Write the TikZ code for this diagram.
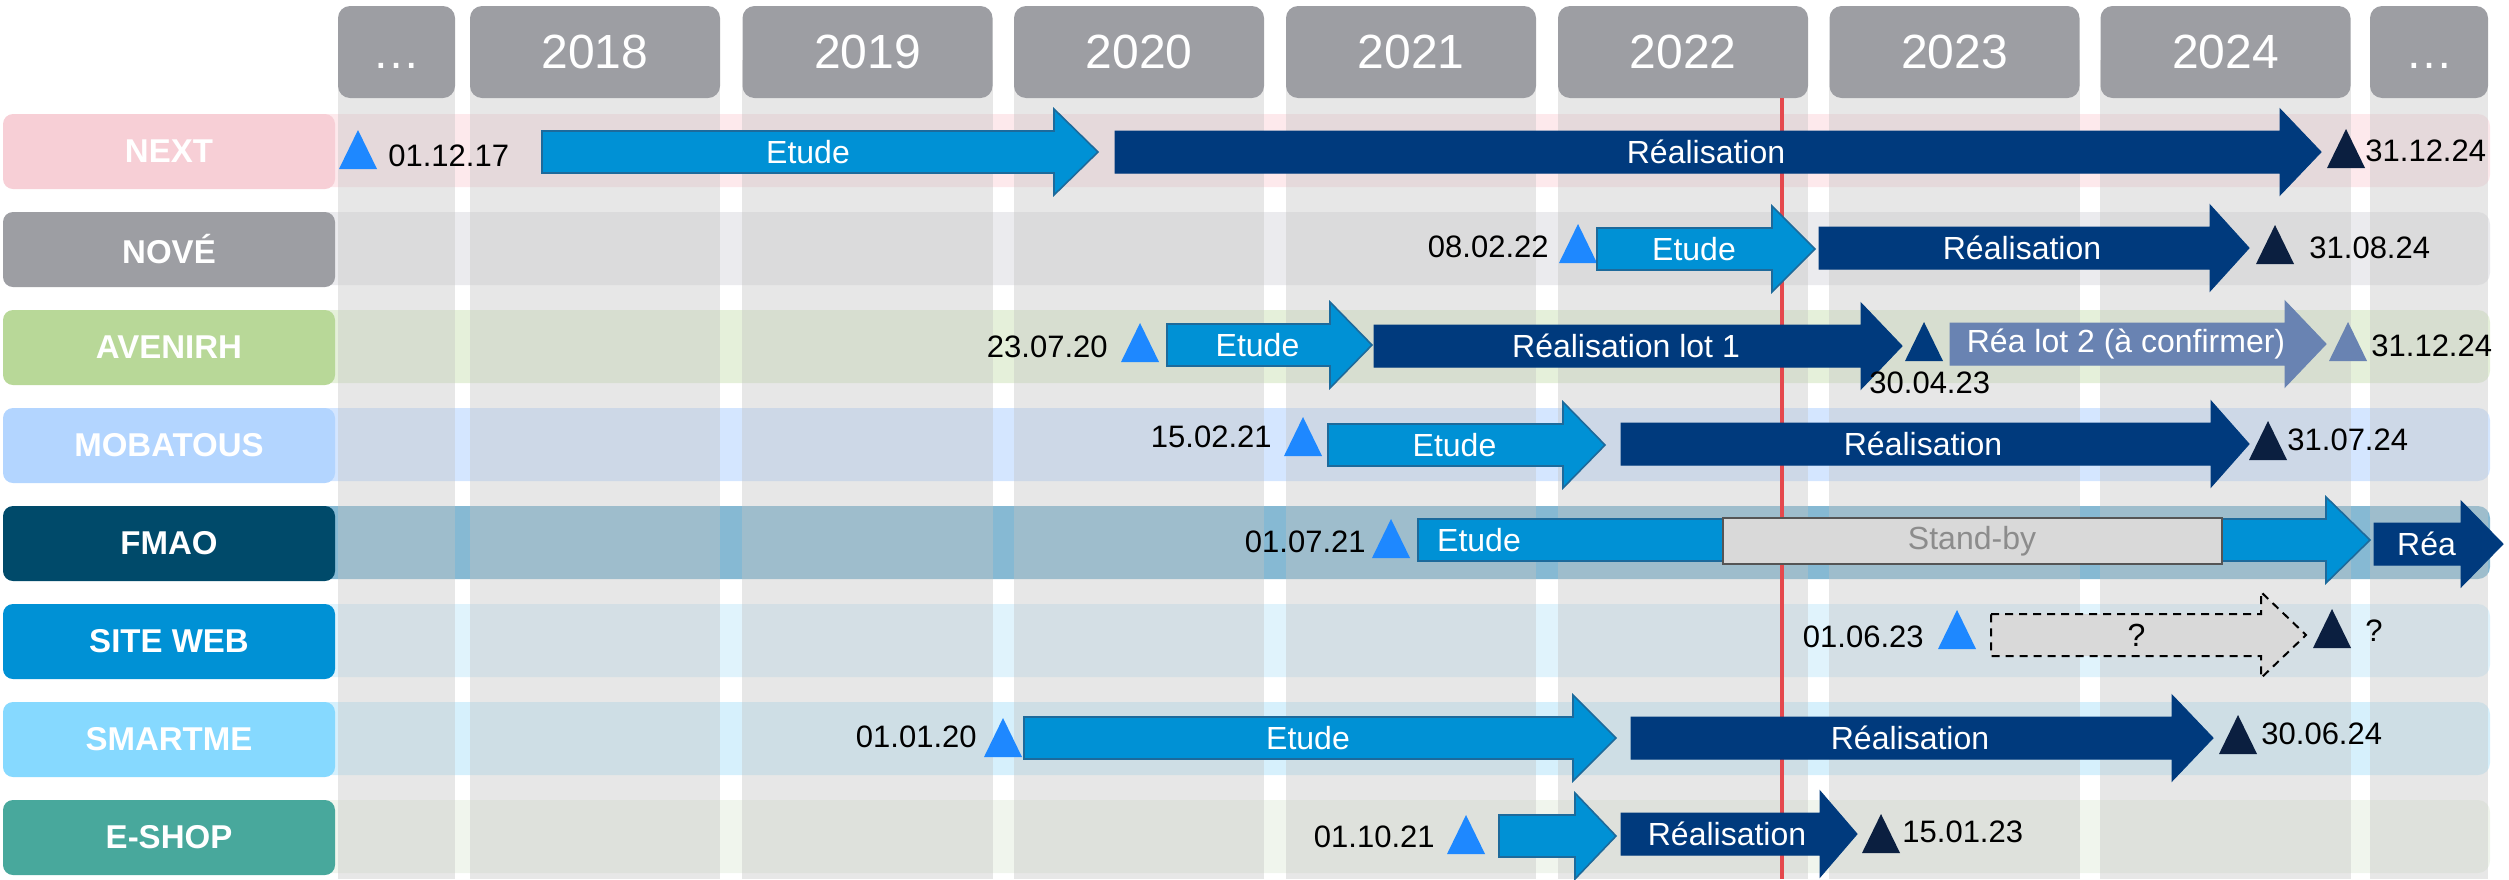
\documentclass[tikz,border=0pt]{standalone}
\usepackage{fontspec}
\setmainfont{Liberation Sans}
\usepackage{xcolor}
\usepackage{tikz}

\definecolor{hdrgray}{HTML}{9D9EA3}
\definecolor{colgray}{HTML}{C3C3C3}
\definecolor{etudeblue}{HTML}{0091D5}
\definecolor{etudeedge}{HTML}{1D6A9B}
\definecolor{realnavy}{HTML}{003A7D}
\definecolor{lotsteel}{HTML}{6983B2}
\definecolor{msblue}{HTML}{1E88FF}
\definecolor{msdark}{HTML}{0B1F40}
\definecolor{todayred}{HTML}{E5484D}
\definecolor{standfill}{HTML}{D9D9D9}
\definecolor{standedge}{HTML}{555555}
\definecolor{standtext}{HTML}{8C8C8C}
\definecolor{nextlbl}{HTML}{F7CFD6}
\definecolor{nextband}{HTML}{FDE9EC}
\definecolor{novelbl}{HTML}{9D9EA3}
\definecolor{noveband}{HTML}{EBEBEE}
\definecolor{avenlbl}{HTML}{B8D898}
\definecolor{avenband}{HTML}{E5F0DA}
\definecolor{mobalbl}{HTML}{B3D5FF}
\definecolor{mobaband}{HTML}{D4E6FF}
\definecolor{fmaolbl}{HTML}{004A6A}
\definecolor{fmaoband}{HTML}{86B9D3}
\definecolor{weblbl}{HTML}{0091D5}
\definecolor{webband}{HTML}{E0F3FC}
\definecolor{smartlbl}{HTML}{86D9FF}
\definecolor{smartband}{HTML}{D6F0FC}
\definecolor{shoplbl}{HTML}{48A89C}
\definecolor{shopband}{HTML}{F0F5ED}

% phase arrow: style, start x, head x, tip x, centre y, name, text
\newcommand{\phasearrow}[7]{%
\draw[#1] (#2,#5-21) -- (#3,#5-21) -- (#3,#5-43) -- (#4,#5) -- (#3,#5+43) -- (#3,#5+21) -- (#2,#5+21) -- cycle;
\node[arrtext] (#6) at ({(#2+#4)/2-12},#5) {#7};}
% milestone: colour, centre x, base y
\newcommand{\milestone}[3]{%
\fill[#1] (#2-19,#3) -- (#2+19,#3) -- (#2,#3-39) -- cycle;}

\begin{document}
\begin{tikzpicture}[x=0.5pt,y=-0.5pt,
  hdr/.style={fill=hdrgray, rounded corners=6pt, minimum height=46pt, text=white, inner sep=0pt, font=\fontsize{24}{28}\selectfont},
  colstrip/.style={fill=colgray, fill opacity=0.4},
  rowlabel/.style={rounded corners=5pt, minimum width=166pt, minimum height=37.5pt, inner sep=0pt, text=white, font=\bfseries\fontsize{16.5}{20}\selectfont},
  band/.style={rounded corners=6pt},
  arrtext/.style={text=white, inner sep=0pt, font=\fontsize{16}{19}\selectfont},
  datetext/.style={text=black, inner sep=0pt, font=\fontsize{15.5}{18}\selectfont},
  etude/.style={fill=etudeblue, draw=etudeedge, line width=0.8pt},
  realis/.style={fill=realnavy, draw=realnavy, line width=0.5pt},
  lotdeux/.style={fill=lotsteel, draw=lotsteel, line width=0.5pt},
  unsure/.style={fill=standfill, draw=black, line width=1pt, dash pattern=on 4pt off 3pt}]
\useasboundingbox (0,0) rectangle (2509,879);

%Row bands
\fill[band, nextband] (290,114) rectangle (2490,187);
\fill[band, noveband] (290,212) rectangle (2490,285);
\fill[band, avenband] (290,310) rectangle (2490,383);
\fill[band, mobaband] (290,408) rectangle (2490,481);
\fill[band, fmaoband] (290,506) rectangle (2490,579);
\fill[band, webband] (290,604) rectangle (2490,677);
\fill[band, smartband] (290,702) rectangle (2490,775);
\fill[band, shopband] (290,800) rectangle (2490,873);

%Year columns
\fill[colstrip] (338,60) rectangle (455,879);
\fill[colstrip] (470,60) rectangle (720,879);
\fill[colstrip] (742,60) rectangle (993,879);
\fill[colstrip] (1014,60) rectangle (1264,879);
\fill[colstrip] (1286,60) rectangle (1536,879);
\fill[colstrip] (1558,60) rectangle (1808,879);
\fill[colstrip] (1829,60) rectangle (2080,879);
\fill[colstrip] (2100,60) rectangle (2351,879);
\fill[colstrip] (2370,60) rectangle (2488,879);

%Headers
\node[hdr, minimum width=58.5pt] (ybefore) at (396.5,52) {\vphantom{0}\dots};
\node[hdr, minimum width=125pt] (y2018) at (595,52) {2018};
\node[hdr, minimum width=125pt] (y2019) at (867.5,52) {2019};
\node[hdr, minimum width=125pt] (y2020) at (1139,52) {2020};
\node[hdr, minimum width=125pt] (y2021) at (1411,52) {2021};
\node[hdr, minimum width=125pt] (y2022) at (1683,52) {2022};
\node[hdr, minimum width=125pt] (y2023) at (1954.5,52) {2023};
\node[hdr, minimum width=125pt] (y2024) at (2225.5,52) {2024};
\node[hdr, minimum width=59pt] (yafter) at (2429,52) {\vphantom{0}\dots};

%Today line
\draw[todayred, line width=2pt] (1782,98) -- (1782,879);

%Row labels
\node[rowlabel, fill=nextlbl] (next) at (169,151.5) {NEXT};
\node[rowlabel, fill=novelbl] (nove) at (169,249.5) {NOVÉ};
\node[rowlabel, fill=avenlbl] (avenirh) at (169,347.5) {AVENIRH};
\node[rowlabel, fill=mobalbl] (mobatous) at (169,445.5) {MOBATOUS};
\node[rowlabel, fill=fmaolbl] (fmao) at (169,543.5) {FMAO};
\node[rowlabel, fill=weblbl] (siteweb) at (169,641.5) {SITE WEB};
\node[rowlabel, fill=smartlbl] (smartme) at (169,739.5) {SMARTME};
\node[rowlabel, fill=shoplbl] (eshop) at (169,837.5) {E-SHOP};

%NEXT
\milestone{msblue}{358}{169}
\node[datetext, anchor=west] (next-start) at (388,156) {01.12.17};
\phasearrow{etude}{542}{1054}{1098}{152}{next-etude}{Etude}
\phasearrow{realis}{1115}{2280}{2321}{152}{next-real}{Réalisation}
\milestone{msdark}{2346}{168}
\node[datetext, anchor=west] (next-end) at (2365,151) {31.12.24};

%NOVE
\node[datetext, anchor=east] (nove-start) at (1549,247) {08.02.22};
\milestone{msblue}{1578}{263}
\phasearrow{etude}{1597}{1772}{1815}{249}{nove-etude}{Etude}
\phasearrow{realis}{1819}{2210}{2249}{248}{nove-real}{Réalisation}
\milestone{msdark}{2275}{264}
\node[datetext, anchor=west] (nove-end) at (2309,248) {31.08.24};

%AVENIRH
\node[datetext, anchor=east] (aven-start) at (1108,347) {23.07.20};
\milestone{msblue}{1140}{362}
\phasearrow{etude}{1167}{1330}{1372}{345}{aven-etude}{Etude}
\phasearrow{realis}{1374}{1861}{1902}{346}{aven-lot1}{Réalisation lot 1}
\milestone{realnavy}{1924}{361}
\node[datetext, anchor=west] (aven-mid) at (1869,383) {30.04.23};
\phasearrow{lotdeux}{1950}{2285}{2326}{344}{aven-lot2}{Réa lot 2 (à confirmer)}
\milestone{lotsteel}{2348}{361}
\node[datetext, anchor=west] (aven-end) at (2371,346) {31.12.24};

%MOBATOUS
\node[datetext, anchor=east] (moba-start) at (1272,437) {15.02.21};
\milestone{msblue}{1303}{456}
\phasearrow{etude}{1328}{1563}{1605}{445}{moba-etude}{Etude}
\phasearrow{realis}{1621}{2211}{2249}{444}{moba-real}{Réalisation}
\milestone{msdark}{2268}{460}
\node[datetext, anchor=west] (moba-end) at (2287,440) {31.07.24};

%FMAO
\node[datetext, anchor=east] (fmao-start) at (1366,542) {01.07.21};
\milestone{msblue}{1391}{558}
\phasearrow{etude}{1418}{2326}{2370}{540}{fmao-etude}{}
\node[arrtext] (fmao-etude-txt) at (1479,540) {Etude};
\draw[fill=standfill, draw=standedge, line width=1pt] (1723,518) rectangle (2222,564);
\node[arrtext, text=standtext] (fmao-stand) at (1972,541) {Stand-by};
\phasearrow{realis}{2374}{2461}{2503}{544}{fmao-rea}{Réa}

%SITE WEB
\node[datetext, anchor=east] (web-start) at (1924,637) {01.06.23};
\milestone{msblue}{1957}{649}
\phasearrow{unsure}{1991}{2261}{2306}{635}{web-phase}{\color{black}?}
\milestone{msdark}{2332}{648}
\node[datetext, anchor=west] (web-end) at (2365,631) {?};

%SMARTME
\node[datetext, anchor=east] (smart-start) at (977,737) {01.01.20};
\milestone{msblue}{1003}{757}
\phasearrow{etude}{1024}{1573}{1616}{738}{smart-etude}{Etude}
\phasearrow{realis}{1631}{2172}{2213}{738}{smart-real}{Réalisation}
\milestone{msdark}{2238}{754}
\node[datetext, anchor=west] (smart-end) at (2261,734) {30.06.24};

%E-SHOP
\node[datetext, anchor=east] (shop-start) at (1435,837) {01.10.21};
\milestone{msblue}{1466}{854}
\phasearrow{etude}{1499}{1575}{1616}{836}{shop-etude}{}
\phasearrow{realis}{1621}{1820}{1857}{834}{shop-real}{Réalisation}
\milestone{msdark}{1881}{853}
\node[datetext, anchor=west] (shop-end) at (1902,832) {15.01.23};

\end{tikzpicture}
\end{document}
